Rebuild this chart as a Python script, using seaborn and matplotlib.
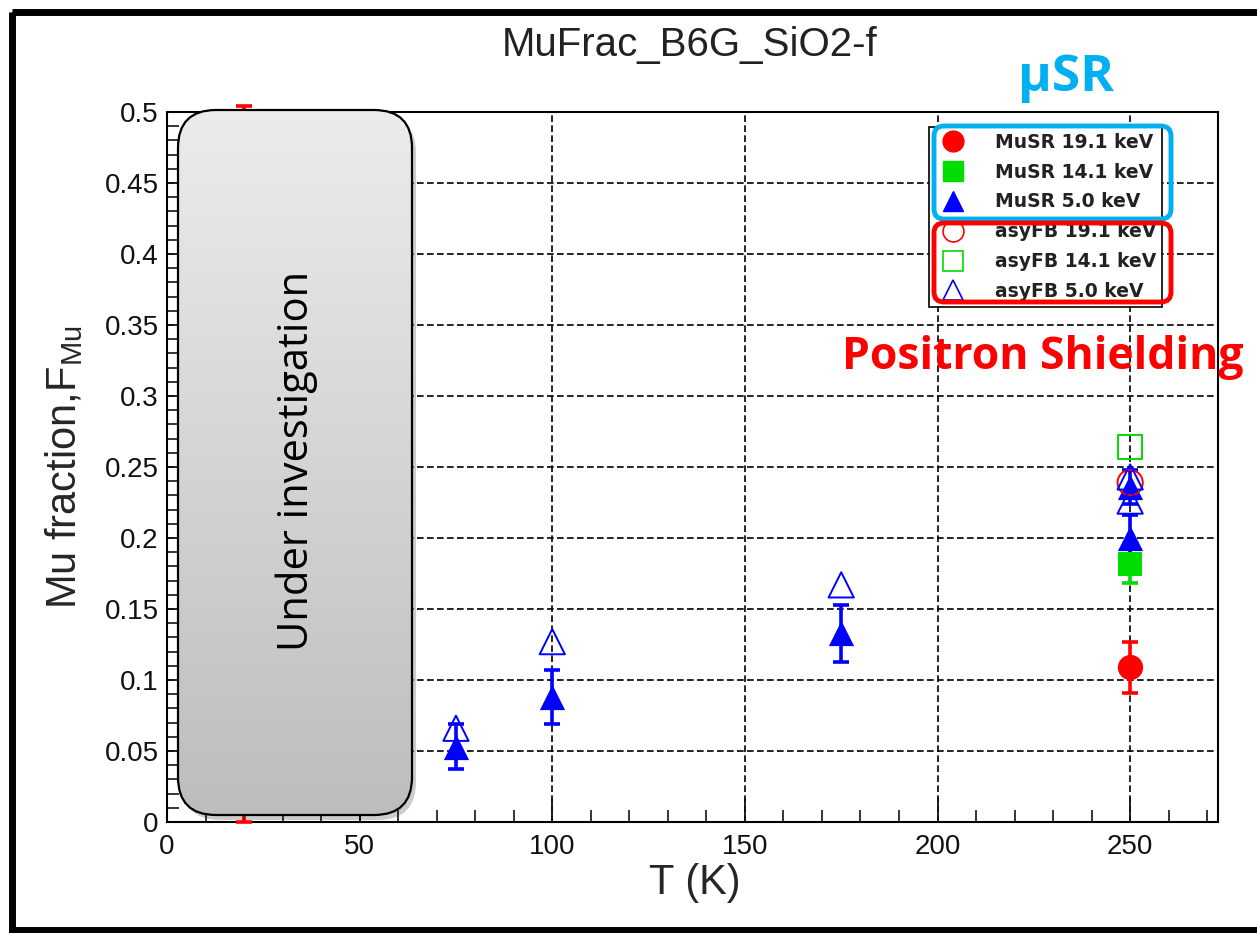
import numpy as np
import pandas as pd
import matplotlib
matplotlib.use("Agg")
import matplotlib.pyplot as plt
import seaborn as sns
from matplotlib.patches import FancyBboxPatch, Rectangle
from matplotlib.lines import Line2D
from matplotlib.ticker import MultipleLocator, FixedLocator, FixedFormatter

# ---------------- data ----------------
T_musr19 = [20, 250]
F_musr19 = [0.252, 0.109]
E_musr19 = [0.252, 0.018]

T_musr14 = [250]
F_musr14 = [0.182]
E_musr14 = [0.014]

T_musr5 = [75, 100, 175, 250, 250]
F_musr5 = [0.053, 0.088, 0.133, 0.200, 0.236]
E_musr5 = [0.016, 0.019, 0.020, 0.016, 0.012]

T_asy19 = [250]
F_asy19 = [0.239]

T_asy14 = [250]
F_asy14 = [0.264]

T_asy5 = [75, 100, 175, 250, 250]
F_asy5 = [0.066, 0.127, 0.167, 0.226, 0.243]

x_ticks = [0, 50, 100, 150, 200, 250]
x_ticklabels = ["0", "50", "100", "150", "200", "250"]
y_ticks = [0, 0.05, 0.1, 0.15, 0.2, 0.25, 0.3, 0.35, 0.4, 0.45, 0.5]
y_ticklabels = ["0", "0.05", "0.1", "0.15", "0.2", "0.25", "0.3", "0.35", "0.4", "0.45", "0.5"]

legend_labels = ["MuSR 19.1 keV", "MuSR 14.1 keV", "MuSR 5.0 keV",
                 "asyFB 19.1 keV", "asyFB 14.1 keV", "asyFB 5.0 keV"]

RED, GREEN, BLUE = "#ff0000", "#00dd00", "#0000ff"

# ---------------- figure ----------------
sns.set_style("white")
plt.rcParams["font.family"] = ["Liberation Sans", "DejaVu Sans"]

W, H = 1257, 933
fig = plt.figure(figsize=(W / 100, H / 100), dpi=100)
ax = fig.add_axes([167 / W, 1 - 822 / H, (1218 - 167) / W, (822 - 112) / H])

ax.set_xlim(0, 272.8)
ax.set_ylim(0, 0.5)

# error bars
def errb(T, F, E, col):
    eb = ax.errorbar(T, F, yerr=E, fmt="none", ecolor=col, elinewidth=2.6,
                     capsize=6, capthick=2.6, zorder=3)
    for art in eb.lines[1] + eb.lines[2]:
        art.set_clip_on(False)

errb(T_musr19, F_musr19, E_musr19, RED)
errb(T_musr14, F_musr14, E_musr14, GREEN)
errb(T_musr5, F_musr5, E_musr5, BLUE)

# filled markers
sns.scatterplot(x=T_musr19, y=F_musr19, ax=ax, marker="o", s=330, color=RED,
                edgecolor=RED, linewidth=0, zorder=4, legend=False)
sns.scatterplot(x=T_musr14, y=F_musr14, ax=ax, marker="s", s=300, color=GREEN,
                edgecolor=GREEN, linewidth=0, zorder=4, legend=False)
sns.scatterplot(x=T_musr5, y=F_musr5, ax=ax, marker="^", s=330, color=BLUE,
                edgecolor=BLUE, linewidth=0, zorder=4, legend=False)
# open markers
sns.scatterplot(x=T_asy19, y=F_asy19, ax=ax, marker="o", s=330, color=RED,
                facecolor="none", edgecolor=RED, linewidth=1.4, zorder=5, legend=False)
sns.scatterplot(x=T_asy14, y=F_asy14, ax=ax, marker="s", s=300, color=GREEN,
                facecolor="none", edgecolor=GREEN, linewidth=1.4, zorder=5, legend=False)
sns.scatterplot(x=T_asy5, y=F_asy5, ax=ax, marker="^", s=330, color=BLUE,
                facecolor="none", edgecolor=BLUE, linewidth=1.4, zorder=5, legend=False)

# axes styling
ax.xaxis.set_major_locator(FixedLocator(x_ticks))
ax.xaxis.set_major_formatter(FixedFormatter(x_ticklabels))
ax.xaxis.set_minor_locator(MultipleLocator(10))
ax.yaxis.set_major_locator(FixedLocator(y_ticks))
ax.yaxis.set_major_formatter(FixedFormatter(y_ticklabels))
ax.yaxis.set_minor_locator(MultipleLocator(0.01))
ax.tick_params(which="major", direction="in", length=17, width=1.3,
               labelsize=20, colors="#111111", bottom=True, left=True)
ax.tick_params(which="minor", direction="in", length=8.5, width=1.3,
               bottom=True, left=True)
ax.tick_params(axis="y", pad=6)
ax.tick_params(axis="x", pad=9)
for sp in ax.spines.values():
    sp.set_linewidth(1.5)
    sp.set_color("black")
ax.grid(True, which="major", color="black", linestyle=(0, (4, 2)), linewidth=1.2)
ax.set_axisbelow(True)

ax.set_xlabel("T (K)", fontsize=30)
ax.xaxis.set_label_coords(0.502, -0.058)
ax.set_ylabel(r"Mu fraction,F$_{\mathregular{Mu}}$", fontsize=30)
ax.yaxis.set_label_coords(-0.078, 0.5)

fig.text(690 / W, 1 - 45 / H, "MuFrac_B6G_SiO2-f", ha="center", va="center",
         fontsize=29, color="#222222")

# legend
handles = [
    Line2D([], [], ls="none", marker="o", ms=15, mfc=RED, mec=RED),
    Line2D([], [], ls="none", marker="s", ms=14, mfc=GREEN, mec=GREEN),
    Line2D([], [], ls="none", marker="^", ms=15, mfc=BLUE, mec=BLUE),
    Line2D([], [], ls="none", marker="o", ms=15, mfc="none", mec=RED, mew=1.2),
    Line2D([], [], ls="none", marker="s", ms=14, mfc="none", mec=GREEN, mew=1.2),
    Line2D([], [], ls="none", marker="^", ms=15, mfc="none", mec=BLUE, mew=1.2),
]
leg = ax.legend(handles, legend_labels, loc="upper left",
                bbox_to_anchor=(929 / W, 1 - 127 / H), bbox_transform=fig.transFigure,
                frameon=True, fancybox=False, edgecolor="black", framealpha=1,
                prop={"weight": "bold", "size": 13.5, "family": "DejaVu Sans"},
                labelspacing=0.58, handletextpad=1.2, borderpad=0.3,
                handlelength=2.0, borderaxespad=0)
leg.get_frame().set_linewidth(1.2)
leg.set_zorder(10)
for t in leg.get_texts():
    t.set_color("#222222")

# ---------------- overlay (pixel coordinates) ----------------
ov = fig.add_axes([0, 0, 1, 1], zorder=20)
ov.set_xlim(0, W)
ov.set_ylim(H, 0)
ov.axis("off")

# outer slide frame
ov.add_patch(Rectangle((12, 12), W + 20, 918, fill=False, lw=5, ec="black"))

# "Under investigation" box with shadow and gradient
bx, by, bw, bh = 178, 110, 234, 705
shadow = FancyBboxPatch((bx + 4, by + 5), bw, bh, boxstyle="round,pad=0,rounding_size=38",
                        fc="#000000", ec="none", alpha=0.2)
ov.add_patch(shadow)
box = FancyBboxPatch((bx, by), bw, bh, boxstyle="round,pad=0,rounding_size=38",
                     fc="none", ec="black", lw=1.6, zorder=3)
ov.add_patch(box)
grad = np.linspace(0, 1, 256).reshape(-1, 1)
cmap = matplotlib.colors.LinearSegmentedColormap.from_list("g", ["#ececec", "#bdbdbd"])
im = ov.imshow(grad, extent=(bx, bx + bw, by + bh, by), cmap=cmap, aspect="auto", zorder=2)
im.set_clip_path(FancyBboxPatch((bx, by), bw, bh, boxstyle="round,pad=0,rounding_size=38",
                                transform=ov.transData))
ov.set_xlim(0, W)
ov.set_ylim(H, 0)
ov.text(bx + bw / 2 + 2, 461, "Under investigation", rotation=90, ha="center", va="center",
        fontsize=30, family=["Open Sans", "DejaVu Sans"], color="black", zorder=4)

# μSR / Positron Shielding annotations
ov.text(1066, 78, "μSR", ha="center", va="center", fontsize=37, fontweight="bold",
        color="#00b0f0", family=["Open Sans", "DejaVu Sans"])
ov.text(1043, 358, "Positron Shielding", ha="center", va="center", fontsize=32,
        fontweight="bold", color="#ff0000", family=["Open Sans", "DejaVu Sans"])

ov.add_patch(FancyBboxPatch((934, 126), 237, 93, boxstyle="round,pad=0,rounding_size=10",
                            fill=False, ec="#00b0f0", lw=3.5))
ov.add_patch(FancyBboxPatch((934, 223), 237, 79, boxstyle="round,pad=0,rounding_size=10",
                            fill=False, ec="#ff0000", lw=3.5))

fig.savefig("out.png", dpi=100)
